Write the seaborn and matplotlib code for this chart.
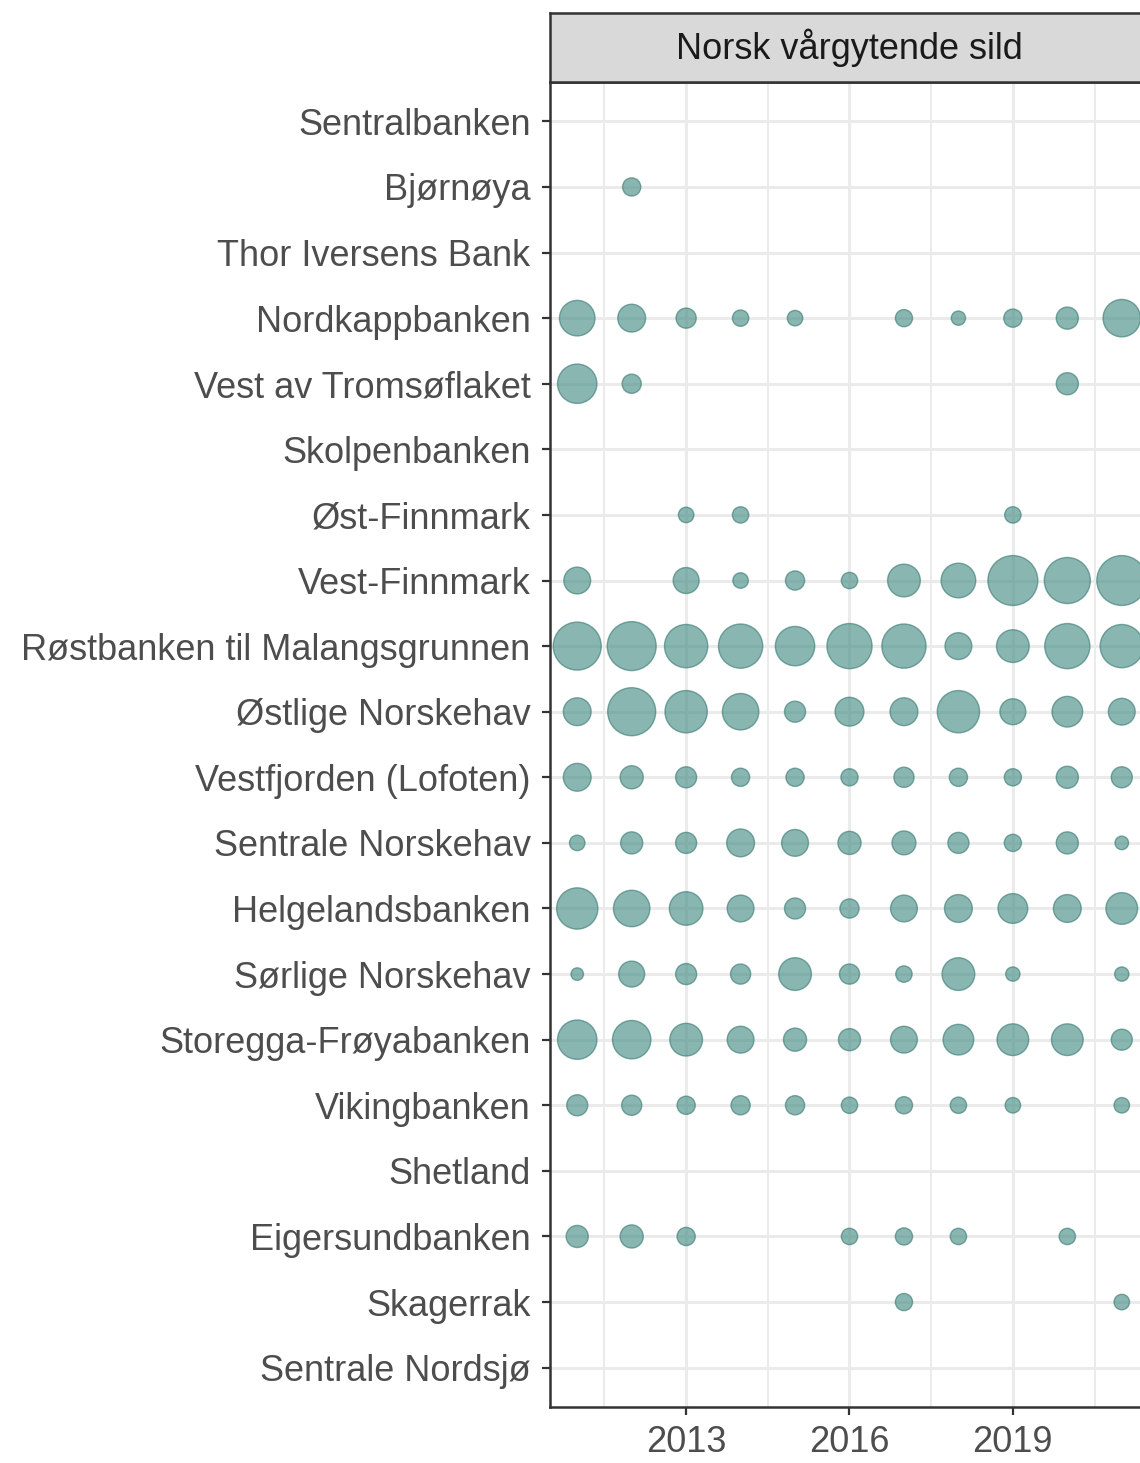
import numpy as np
import pandas as pd
import matplotlib
matplotlib.use("Agg")
import matplotlib.pyplot as plt
import seaborn as sns

# Fishing areas, top to bottom as in the chart
regions = [
    "Sentralbanken", "Bjørnøya", "Thor Iversens Bank", "Nordkappbanken",
    "Vest av Tromsøflaket", "Skolpenbanken", "Øst-Finnmark", "Vest-Finnmark",
    "Røstbanken til Malangsgrunnen", "Østlige Norskehav", "Vestfjorden (Lofoten)",
    "Sentrale Norskehav", "Helgelandsbanken", "Sørlige Norskehav",
    "Storegga-Frøyabanken", "Vikingbanken", "Shetland", "Eigersundbanken",
    "Skagerrak", "Sentrale Nordsjø",
]
years = [2011, 2012, 2013, 2014, 2015, 2016, 2017, 2018, 2019, 2020, 2021]

# relative catch per area and year (bubble area), None = no catch
n = None
catch = [
    [n, n, n, n, n, n, n, n, n, n, n],                         # Sentralbanken
    [n, 36, n, n, n, n, n, n, n, n, n],                        # Bjørnøya
    [n, n, n, n, n, n, n, n, n, n, n],                         # Thor Iversens Bank
    [137, 84, 44, 29, 26, n, 32, 22, 36, 53, 152],             # Nordkappbanken
    [168, 40, n, n, n, n, n, n, n, 53, n],                     # Vest av Tromsøflaket
    [n, n, n, n, n, n, n, n, n, n, n],                         # Skolpenbanken
    [n, n, 26, 29, n, n, n, n, 29, n, n],                      # Øst-Finnmark
    [78, n, 73, 26, 40, 29, 116, 130, 270, 230, 270],          # Vest-Finnmark
    [250, 260, 203, 212, 168, 221, 212, 78, 116, 221, 203],    # Røstbanken
    [84, 250, 194, 144, 48, 90, 84, 194, 73, 102, 78],         # Østlige Norskehav
    [84, 58, 48, 36, 36, 32, 44, 36, 32, 53, 48],              # Vestfjorden
    [26, 53, 48, 84, 78, 58, 62, 48, 32, 53, 20],              # Sentrale Norskehav
    [185, 144, 122, 78, 48, 40, 78, 84, 96, 84, 109],          # Helgelandsbanken
    [17, 73, 48, 44, 116, 44, 29, 116, 22, n, 22],             # Sørlige Norskehav
    [168, 160, 116, 78, 58, 53, 78, 102, 109, 109, 48],        # Storegga-Frøyabanken
    [48, 44, 36, 40, 40, 29, 32, 29, 26, n, 26],               # Vikingbanken
    [n, n, n, n, n, n, n, n, n, n, n],                         # Shetland
    [53, 58, 36, n, n, 29, 32, 29, n, 29, n],                  # Eigersundbanken
    [n, n, n, n, n, n, 32, n, n, n, 26],                       # Skagerrak
    [n, n, n, n, n, n, n, n, n, n, n],                         # Sentrale Nordsjø
]
facet_title = "Norsk vårgytende sild"
x_ticks = [2013, 2016, 2019]

rows = []
for i, region in enumerate(regions):
    for year, val in zip(years, catch[i]):
        if val is not None:
            rows.append({"område": region, "pos": i, "år": year, "fangst": val})
df = pd.DataFrame(rows)

sns.set_theme(style="white")
plt.rcParams["font.family"] = ["Liberation Sans", "DejaVu Sans"]

W, H = 1140, 1463
fig = plt.figure(figsize=(W / 100, H / 100), dpi=100)
fig.patch.set_facecolor("white")

# panel extends a little past the right edge of the image (cropped original)
left, right, top, bottom = 550, 1149, 82, 1407
ax = fig.add_axes([left / W, 1 - bottom / H, (right - left) / W, (bottom - top) / H])

vmax = 270
sns.scatterplot(data=df, x="år", y="pos", size="fangst",
                sizes=(0, 1290), size_norm=(0, vmax),
                color="#418a82", edgecolor="#3a7a73", linewidth=1.0,
                alpha=0.62, legend=False, ax=ax, zorder=3)

ax.set_xlim(2010.5, 2021.5)
ax.set_ylim(len(regions) - 1 + 0.6, -0.6)
ax.set_xticks(x_ticks)
ax.set_xticks([2011.5, 2014.5, 2017.5, 2020.5], minor=True)
ax.set_yticks(range(len(regions)))
ax.set_yticklabels(regions)
ax.set_xlabel("")
ax.set_ylabel("")

ax.grid(which="major", color="#ebebeb", linewidth=2.2, zorder=0)
ax.grid(which="minor", axis="x", color="#ebebeb", linewidth=1.4, zorder=0)
ax.set_axisbelow(True)

for sp in ax.spines.values():
    sp.set_color("#333333")
    sp.set_linewidth(1.8)
    sp.set_visible(True)

ax.tick_params(axis="both", which="major", length=6, width=1.6, color="#333333",
               labelsize=26, labelcolor="#4d4d4d", left=True, bottom=True)
ax.tick_params(axis="y", which="major", pad=8)
ax.tick_params(axis="x", which="major", pad=7)
ax.tick_params(axis="x", which="minor", length=0)

# facet strip
strip = fig.add_axes([left / W, 1 - top / H, (right - left) / W, (top - 13) / H])
strip.set_facecolor("#d9d9d9")
strip.set_xticks([])
strip.set_yticks([])
for sp in strip.spines.values():
    sp.set_color("#333333")
    sp.set_linewidth(1.8)
strip.text(0.5, 0.5, facet_title, ha="center", va="center", fontsize=26,
           color="#1a1a1a", transform=strip.transAxes)

fig.savefig("out.png", dpi=100, facecolor="white")
